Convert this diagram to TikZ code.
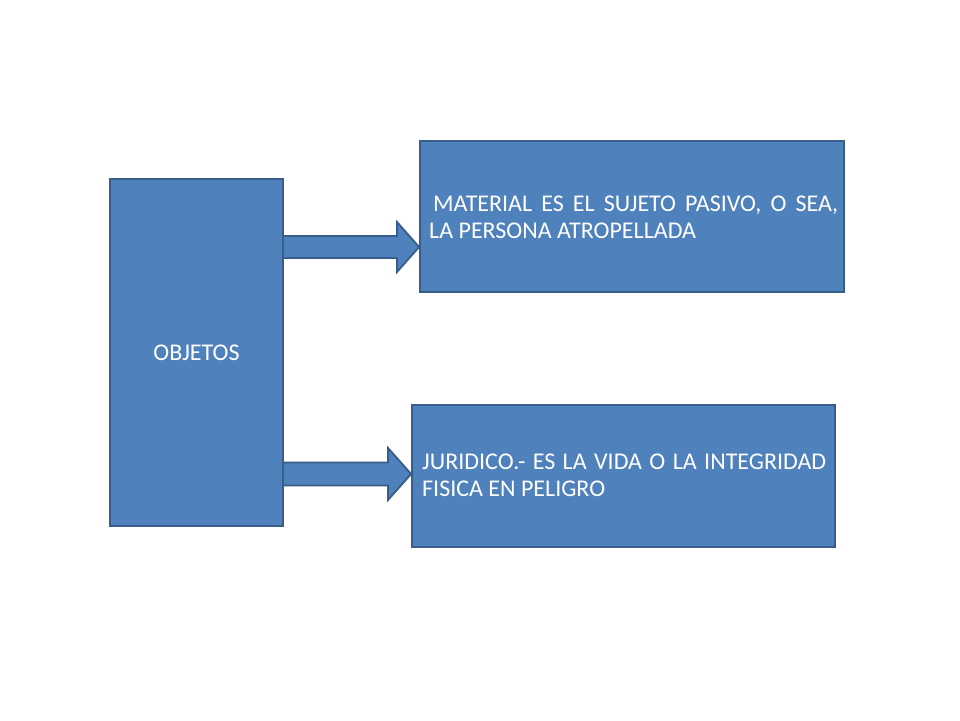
\documentclass[tikz,border=0pt]{standalone}
\usepackage{fontspec}
\setmainfont{Carlito}
\usetikzlibrary{calc}
\definecolor{boxfill}{HTML}{4F81BD}
\definecolor{boxline}{HTML}{385D8A}
\tikzset{
  bluebox/.style={draw=boxline, fill=boxfill, line width=1.8pt, inner sep=0pt, rectangle},
  boxtext/.style={text=white, inner sep=0pt, font=\fontsize{24}{27}\selectfont, align=justify, anchor=north west},
  blockarrow/.style={draw=boxline, fill=boxfill, line width=1.8pt, line join=miter},
}
\begin{document}
\begin{tikzpicture}[x=1pt,y=-1pt]
\useasboundingbox (0,0) rectangle (960,720);
\fill[white] (0,0) rectangle (960,720);
\node[bluebox, minimum width=173pt, minimum height=347pt] (obj) at (196.5,352.5) {};
\node[bluebox, minimum width=424pt, minimum height=151pt] (mat) at (632,216.5) {};
\node[bluebox, minimum width=423pt, minimum height=142pt] (jur) at (623.5,476) {};
\node[text=white, font=\fontsize{24}{27}\selectfont, inner sep=0pt] (objt) at (obj.center) {OBJETOS};
\node[boxtext, text width=409pt] (matt) at (429,195.5) {\hspace*{4pt}MATERIAL ES EL SUJETO PASIVO, O SEA,\linebreak LA PERSONA ATROPELLADA};
\node[boxtext, text width=404pt] (jurt) at (422,453.5) {JURIDICO.- ES LA VIDA O LA INTEGRIDAD\linebreak FISICA EN PELIGRO};
% block arrows from OBJETOS to the boxes
\coordinate (a1s) at (obj.east |- 0,247);
\coordinate (a1t) at (mat.west |- 0,247);
\draw[blockarrow] ($(a1s)+(0,-11)$) -- (397,236) -- (397,222) -- (a1t) -- (397,272) -- (397,258) -- ($(a1s)+(0,11)$);
\coordinate (a2s) at (obj.east |- 0,474);
\coordinate (a2t) at (jur.west |- 0,474);
\draw[blockarrow] ($(a2s)+(0,-11.5)$) -- (388,462.5) -- (388,448) -- (a2t) -- (388,500) -- (388,485.5) -- ($(a2s)+(0,11.5)$);
\end{tikzpicture}
\end{document}
